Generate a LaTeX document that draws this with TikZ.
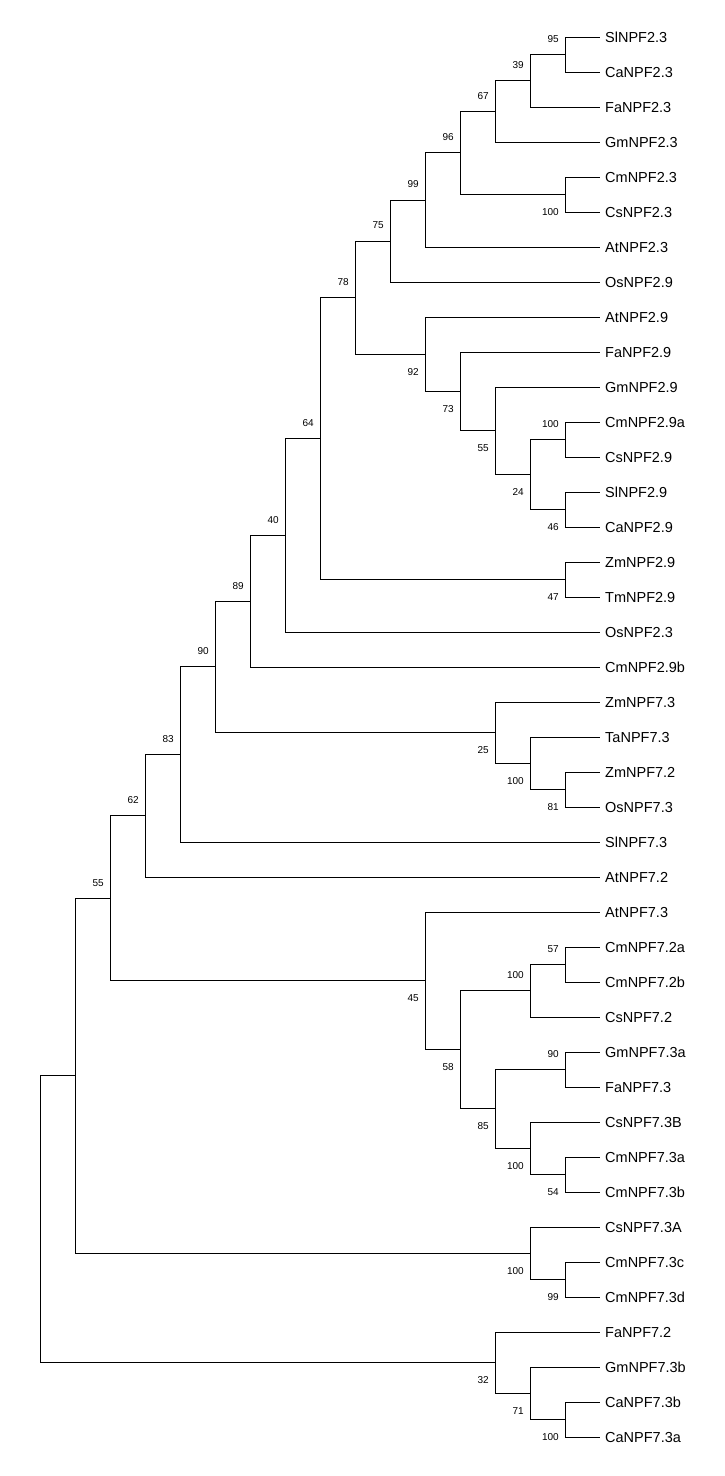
\documentclass[tikz,border=0pt]{standalone}
\usepackage{fontspec}
\setmainfont{Liberation Sans}
\usetikzlibrary{positioning}

\tikzset{
  branch/.style={line width=1pt},
  leaf/.style={anchor=west, inner xsep=5pt, inner ysep=0pt, text height=10.4pt, text depth=0pt,
    font=\fontsize{14.5}{16}\selectfont},
  boot/.style={anchor=east, inner sep=0pt, font=\fontsize{10}{12}\selectfont, xshift=-6pt},
  bup/.style={boot, yshift=15.5pt},
  bdn/.style={boot, yshift=-17.5pt}
}

\begin{document}
\begin{tikzpicture}[x=1pt,y=-1pt]
  \useasboundingbox (0,0) rectangle (724,1476);
  % taxa
  \foreach \name [count=\i from 0] in {SlNPF2.3,CaNPF2.3,FaNPF2.3,GmNPF2.3,CmNPF2.3,CsNPF2.3,
      AtNPF2.3,OsNPF2.9,AtNPF2.9,FaNPF2.9,GmNPF2.9,CmNPF2.9a,CsNPF2.9,SlNPF2.9,CaNPF2.9,
      ZmNPF2.9,TmNPF2.9,OsNPF2.3,CmNPF2.9b,ZmNPF7.3,TaNPF7.3,ZmNPF7.2,OsNPF7.3,SlNPF7.3,
      AtNPF7.2,AtNPF7.3,CmNPF7.2a,CmNPF7.2b,CsNPF7.2,GmNPF7.3a,FaNPF7.3,CsNPF7.3B,CmNPF7.3a,
      CmNPF7.3b,CsNPF7.3A,CmNPF7.3c,CmNPF7.3d,FaNPF7.2,GmNPF7.3b,CaNPF7.3b,CaNPF7.3a}
    \node[leaf] (L\i) at (600,{37+35*\i}) {\name};
  % internal nodes
  \coordinate (a1) at (565,54.5);  \coordinate (a2) at (530,80.8);
  \coordinate (a3) at (495,111.4); \coordinate (a4) at (565,194.5);
  \coordinate (a5) at (460,152.9); \coordinate (a6) at (425,200.0);
  \coordinate (a7) at (390,241.0);
  \coordinate (b1) at (565,439.5); \coordinate (b2) at (565,509.5);
  \coordinate (b3) at (530,474.5); \coordinate (b4) at (495,430.8);
  \coordinate (b5) at (460,391.4); \coordinate (b6) at (425,354.2);
  \coordinate (c1) at (355,297.6); \coordinate (c2) at (565,579.5);
  \coordinate (c3) at (320,438.5); \coordinate (c4) at (285,535.3);
  \coordinate (c5) at (250,601.1);
  \coordinate (d1) at (565,789.5); \coordinate (d2) at (530,763.3);
  \coordinate (d3) at (495,732.6);
  \coordinate (e1) at (215,666.9); \coordinate (e2) at (180,754.4);
  \coordinate (e3) at (145,815.7);
  \coordinate (f1) at (565,964.5);  \coordinate (f2) at (530,990.8);
  \coordinate (f3) at (565,1069.5); \coordinate (f4) at (565,1174.5);
  \coordinate (f5) at (530,1148.3); \coordinate (f6) at (495,1108.9);
  \coordinate (f7) at (460,1049.8); \coordinate (f8) at (425,980.9);
  \coordinate (g1) at (110,898.3);
  \coordinate (h1) at (565,1279.5); \coordinate (h2) at (530,1253.3);
  \coordinate (g2) at (75,1075.8);
  \coordinate (k1) at (565,1419.5); \coordinate (k2) at (530,1393.3);
  \coordinate (k3) at (495,1362.6);
  \coordinate (root) at (40,1219.2);
  % branches
  \foreach \p/\c in {a1/L0,a1/L1,a2/a1,a2/L2,a3/a2,a3/L3,a4/L4,a4/L5,a5/a3,a5/a4,
      a6/a5,a6/L6,a7/a6,a7/L7,b1/L11,b1/L12,b2/L13,b2/L14,b3/b1,b3/b2,b4/L10,b4/b3,
      b5/L9,b5/b4,b6/L8,b6/b5,c1/a7,c1/b6,c2/L15,c2/L16,c3/c1,c3/c2,c4/c3,c4/L17,
      c5/c4,c5/L18,d1/L21,d1/L22,d2/L20,d2/d1,d3/L19,d3/d2,e1/c5,e1/d3,e2/e1,e2/L23,
      e3/e2,e3/L24,f1/L26,f1/L27,f2/f1,f2/L28,f3/L29,f3/L30,f4/L32,f4/L33,f5/L31,f5/f4,
      f6/f3,f6/f5,f7/f2,f7/f6,f8/L25,f8/f7,g1/e3,g1/f8,h1/L35,h1/L36,h2/L34,h2/h1,
      g2/g1,g2/h2,k1/L39,k1/L40,k2/L38,k2/k1,k3/L37,k3/k2,root/g2,root/k3}
    \draw[branch] (\p) |- (\c);
  % bootstrap values
  \node[bup] (s-a1) at (a1) {95};  \node[bup] (s-a2) at (a2) {39};
  \node[bup] (s-a3) at (a3) {67};  \node[bdn] (s-a4) at (a4) {100};
  \node[bup] (s-a5) at (a5) {96};  \node[bup] (s-a6) at (a6) {99};
  \node[bup] (s-a7) at (a7) {75};
  \node[bup] (s-b1) at (b1) {100}; \node[bdn] (s-b2) at (b2) {46};
  \node[bdn] (s-b3) at (b3) {24};  \node[bdn] (s-b4) at (b4) {55};
  \node[bdn] (s-b5) at (b5) {73};  \node[bdn] (s-b6) at (b6) {92};
  \node[bup] (s-c1) at (c1) {78};  \node[bdn] (s-c2) at (c2) {47};
  \node[bup] (s-c3) at (c3) {64};  \node[bup] (s-c4) at (c4) {40};
  \node[bup] (s-c5) at (c5) {89};
  \node[bdn] (s-d1) at (d1) {81};  \node[bdn] (s-d2) at (d2) {100};
  \node[bdn] (s-d3) at (d3) {25};
  \node[bup] (s-e1) at (e1) {90};  \node[bup] (s-e2) at (e2) {83};
  \node[bup] (s-e3) at (e3) {62};
  \node[bup] (s-f1) at (f1) {57};  \node[bup] (s-f2) at (f2) {100};
  \node[bup] (s-f3) at (f3) {90};  \node[bdn] (s-f4) at (f4) {54};
  \node[bdn] (s-f5) at (f5) {100}; \node[bdn] (s-f6) at (f6) {85};
  \node[bdn] (s-f7) at (f7) {58};  \node[bdn] (s-f8) at (f8) {45};
  \node[bup] (s-g1) at (g1) {55};
  \node[bdn] (s-h1) at (h1) {99};  \node[bdn] (s-h2) at (h2) {100};
  \node[bdn] (s-k1) at (k1) {100}; \node[bdn] (s-k2) at (k2) {71};
  \node[bdn] (s-k3) at (k3) {32};
\end{tikzpicture}
\end{document}
